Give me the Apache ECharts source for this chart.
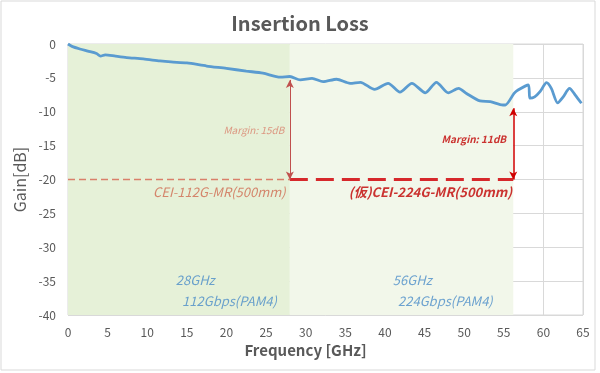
<!DOCTYPE html>
<html><head><meta charset="utf-8">
<script src="https://cdn.jsdelivr.net/npm/echarts@6/dist/echarts.min.js"></script>
<style>html,body{margin:0;padding:0;background:#fff}#c{width:600px;height:373px}</style>
</head><body><div id="c"></div>
<script>
// ---- data ----
const freq = [0,0.5,1.5,2.5,3.6,4.1,4.7,6,7.4,9.5,11.6,13,15,17.5,20,22.5,24.6,26.8,28,29.3,30.8,32.2,33.9,35.6,36.9,38.7,40.4,41.9,43.4,45.1,46.5,48,49.3,50.3,52,53.3,54.9,55.2,56.3,56.8,58.1,58.3,58.9,59.6,60.4,61.0,61.8,62.5,63.3,64,64.8];
const gain = [0,-0.35,-0.74,-1.05,-1.4,-1.8,-1.6,-1.8,-2.0,-2.2,-2.5,-2.65,-2.8,-3.25,-3.6,-4.0,-4.3,-4.9,-4.8,-5.3,-5.07,-5.56,-5.2,-5.8,-5.65,-6.7,-5.8,-7.1,-5.8,-7.2,-5.65,-7.2,-6.55,-7.3,-8.4,-8.5,-9.0,-9.0,-7.3,-6.8,-6.05,-8.0,-7.8,-7.0,-5.7,-6.55,-8.7,-7.8,-6.55,-7.5,-8.75];
const limitLevel = -20;
const band112 = [0, 28];
const band224 = [28, 56.2];
const margin112 = {x: 28, top: -5.3, label: 'Margin: 15dB'};
const margin224 = {x: 56.2, top: -9.5, label: 'Margin: 11dB'};
const specLabels = ['CEI-112G-MR(500mm)', '(仮)CEI-224G-MR(500mm)'];
const bandLabels = [['28GHz','112Gbps(PAM4)'], ['56GHz','224Gbps(PAM4)']];
const xTicks = {min: 0, max: 65, interval: 5};
const yTicks = {min: -40, max: 0, interval: 5};

const FONT = '"Noto Sans CJK JP", "Noto Sans", sans-serif';
const chart = echarts.init(document.getElementById('c'));

function textPoint(x, y, text, style) {
  return {value: [x, y], label: Object.assign({show: true, formatter: text, fontFamily: FONT}, style)};
}

chart.setOption({
  animation: false,
  title: {text: 'Insertion Loss', left: 'center', top: 8,
    textStyle: {fontFamily: FONT, fontSize: 20, fontWeight: 'bold', color: '#595959'}},
  graphic: [{type: 'rect', shape: {x: 1, y: 1, width: 594, height: 369},
    style: {fill: null, stroke: '#d9d9d9', lineWidth: 1}, silent: true}],
  grid: {left: 68, right: 17, top: 44, bottom: 58, show: true, borderColor: '#d9d9d9', borderWidth: 1},
  xAxis: {type: 'value', min: xTicks.min, max: xTicks.max, interval: xTicks.interval,
    name: 'Frequency [GHz]', nameLocation: 'middle', nameGap: 28,
    nameTextStyle: {fontFamily: FONT, fontSize: 15, fontWeight: 'bold', color: '#595959', padding: [0, 40, 0, 0]},
    axisLine: {show: false}, axisTick: {show: false},
    axisLabel: {fontFamily: FONT, fontSize: 12, color: '#595959', margin: 11},
    splitLine: {lineStyle: {color: '#d9d9d9'}}},
  yAxis: {type: 'value', min: yTicks.min, max: yTicks.max, interval: yTicks.interval,
    name: 'Gain[dB]', nameLocation: 'middle', nameGap: 38,
    nameTextStyle: {fontFamily: FONT, fontSize: 16, color: '#595959'},
    axisLine: {show: false}, axisTick: {show: false},
    axisLabel: {fontFamily: FONT, fontSize: 12, color: '#595959', margin: 12},
    splitLine: {lineStyle: {color: '#d9d9d9'}}},
  series: [
    {type: 'line', silent: true, symbol: 'none', data: [], z: 0,
      markArea: {silent: true, data: [
        [{xAxis: band112[0], itemStyle: {color: '#e6f1d8'}}, {xAxis: band112[1]}],
        [{xAxis: band224[0], itemStyle: {color: '#f2f7ea'}}, {xAxis: band224[1]}]
      ]}},
    {type: 'line', name: 'loss', symbol: 'none', smooth: 0.25, z: 5,
      data: freq.map((f, i) => [f, gain[i]]),
      lineStyle: {color: '#5a9bd0', width: 2.8}},
    {type: 'line', symbol: 'none', z: 4,
      data: [[band112[0], limitLevel], [band112[1], limitLevel]],
      lineStyle: {color: '#d9806a', width: 1.3, type: [7, 4]}},
    {type: 'line', symbol: 'none', z: 4,
      data: [[band224[0], limitLevel], [band224[1], limitLevel]],
      lineStyle: {color: '#d6282b', width: 3, type: [18, 8]}},
    {type: 'line', symbol: 'none', data: [], z: 6,
      markLine: {silent: true, symbol: ['arrow', 'arrow'], symbolSize: [6, 8], label: {show: false},
        data: [
          [{coord: [margin112.x, margin112.top], lineStyle: {color: '#c0504d', width: 1, type: 'solid'}},
           {coord: [margin112.x, limitLevel]}],
          [{coord: [margin224.x, margin224.top], lineStyle: {color: '#d00000', width: 1.5, type: 'solid'}},
           {coord: [margin224.x, limitLevel]}]
        ]}},
    {type: 'scatter', symbolSize: 0, silent: true, z: 7,
      data: [
        textPoint(margin112.x - 0.7, -12.7, margin112.label,
          {position: 'left', distance: 0, fontSize: 10, fontStyle: 'italic', color: '#d9806a'}),
        textPoint(margin224.x - 0.9, -14.0, margin224.label,
          {position: 'left', distance: 0, fontSize: 10, fontStyle: 'italic', fontWeight: 'bold', color: '#c00000'}),
        textPoint(19.1, -21.85, specLabels[0],
          {position: 'inside', fontSize: 13, fontStyle: 'italic', color: '#d06a50'}),
        textPoint(45.75, -21.85, specLabels[1],
          {position: 'inside', fontSize: 13, fontStyle: 'italic', fontWeight: 'bold', color: '#c00000'}),
        textPoint(13.6, -34.8, bandLabels[0][0],
          {position: 'right', distance: 0, fontSize: 13, fontStyle: 'italic', color: '#4a8cc8'}),
        textPoint(14.4, -38.0, bandLabels[0][1],
          {position: 'right', distance: 0, fontSize: 13, fontStyle: 'italic', color: '#4a8cc8'}),
        textPoint(41.0, -34.8, bandLabels[1][0],
          {position: 'right', distance: 0, fontSize: 13, fontStyle: 'italic', color: '#4a8cc8'}),
        textPoint(41.65, -38.0, bandLabels[1][1],
          {position: 'right', distance: 0, fontSize: 13, fontStyle: 'italic', color: '#4a8cc8'})
      ]}
  ]
});
</script></body></html>
